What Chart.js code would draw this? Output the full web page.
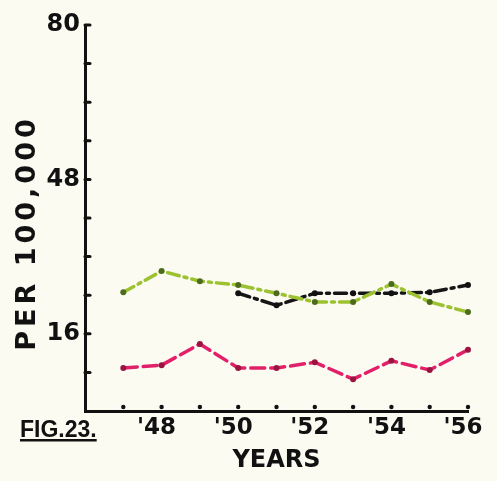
<!DOCTYPE html>
<html>
<head>
<meta charset="utf-8">
<script src="https://cdn.jsdelivr.net/npm/chart.js@4.4.1/dist/chart.umd.min.js"></script>
<style>
  html, body { margin: 0; padding: 0; background: #fbfbf2; }
  #wrap { width: 497px; height: 481px; }
</style>
</head>
<body>
<div id="wrap"><canvas id="fig23" width="497" height="481"></canvas></div>
<script>
// years 1947 - 1956 (shown as '48, '50 ...)
const years = [47, 48, 49, 50, 51, 52, 53, 54, 55, 56];
const greenRates = [24.6, 29.0, 26.9, 26.1, 24.4, 22.6, 22.6, 26.3, 22.6, 20.5];
const blackRates = [null, null, null, 24.4, 21.9, 24.4, 24.4, 24.4, 24.6, 26.1];
const pinkRates = [8.9, 9.5, 13.9, 8.9, 8.9, 10.1, 6.6, 10.4, 8.5, 12.7];
const yLabels = [80, 48, 16];
const xLabels = [48, 50, 52, 54, 56];

let toPoints = (values) => {
    return years.map(function (yr, i) {
        return { x: yr, y: values[i] };
    });
};

// small tick stubs drawn inside the axes + the hand lettering
const innerTicks = {
    id: 'innerTicks',
    afterDraw(chart) {
        const ctx = chart.ctx;
        const area = chart.chartArea;
        const xs = chart.scales.x;
        const ys = chart.scales.y;
        ctx.save();
        ctx.strokeStyle = '#111';
        ctx.lineWidth = 3;
        ctx.lineCap = 'round';
        ys.ticks.forEach(function (t) {
            const py = ys.getPixelForValue(t.value);
            if (t.value === 0) return;
            ctx.beginPath();
            ctx.moveTo(area.left, py);
            ctx.lineTo(area.left + 5, py);
            ctx.stroke();
        });
        ctx.fillStyle = '#111';
        xs.ticks.forEach(function (t) {
            if (t.value === 46) return;
            const px = xs.getPixelForValue(t.value);
            ctx.beginPath();
            ctx.arc(px, area.bottom - 4, 2.2, 0, Math.PI * 2);
            ctx.fill();
        });

        // figure caption, underlined
        ctx.font = 'bold 23px "Liberation Sans Narrow", "Liberation Sans"';
        ctx.letterSpacing = '0px';
        ctx.textBaseline = 'alphabetic';
        ctx.textAlign = 'left';
        ctx.fillText('FIG.23.', 20, 437);
        const w = ctx.measureText('FIG.23.').width;
        ctx.fillRect(20, 439, w, 2.5);

        // y title, spaced out like the original lettering
        ctx.translate(28, 235);
        ctx.rotate(-Math.PI / 2);
        ctx.font = 'bold 27px "DejaVu Sans"';
        ctx.letterSpacing = '4px';
        ctx.textAlign = 'center';
        ctx.textBaseline = 'middle';
        ctx.fillText('PER 100,000', 2, 0);
        ctx.restore();
    }
};

const ctxL = document.getElementById('fig23').getContext('2d');
const fig = new Chart(ctxL, {
    type: 'line',
    data: {
        datasets: [{
            label: 'Series A',
            data: toPoints(greenRates),
            borderColor: '#9cc232',
            borderWidth: 3.5,
            borderDash: [12, 5, 3, 5],
            borderCapStyle: 'round',
            pointRadius: 3,
            pointBorderWidth: 0,
            pointBackgroundColor: '#4d6b1c',
            tension: 0
        }, {
            label: 'Series B',
            data: toPoints(blackRates),
            borderColor: '#161616',
            borderWidth: 3.5,
            borderDash: [12, 5, 3, 5],
            borderCapStyle: 'round',
            pointRadius: 3,
            pointBorderWidth: 0,
            pointBackgroundColor: '#111',
            tension: 0,
            spanGaps: false
        }, {
            label: 'Series C',
            data: toPoints(pinkRates),
            borderColor: '#e2206a',
            borderWidth: 3.5,
            borderDash: [14, 6],
            borderCapStyle: 'round',
            pointRadius: 3,
            pointBorderWidth: 0,
            pointBackgroundColor: '#9a1440',
            tension: 0
        }]
    },
    options: {
        responsive: false,
        animation: false,
        clip: false,
        layout: { padding: { left: 12, right: 29, top: 25, bottom: 6 } },
        plugins: { legend: { display: false }, tooltip: { enabled: false } },
        scales: {
            x: {
                type: 'linear',
                min: 46,
                max: 56,
                border: { display: true, color: '#111', width: 3 },
                grid: { display: false, drawTicks: false },
                ticks: {
                    stepSize: 1,
                    autoSkip: false,
                    maxRotation: 0,
                    padding: 3,
                    labelOffset: -5,
                    color: '#111',
                    font: { family: 'DejaVu Sans', weight: 'bold', size: 23 },
                    callback: function (v) {
                        return xLabels.includes(v) ? "'" + v : '';
                    }
                },
                title: {
                    display: true,
                    text: 'YEARS',
                    color: '#111',
                    padding: { top: 0, bottom: 0 },
                    font: { family: 'DejaVu Sans', weight: 'bold', size: 24 }
                },
                afterFit: function (scale) { scale.height = 64; }
            },
            y: {
                min: 0,
                max: 80,
                border: { display: true, color: '#111', width: 3 },
                grid: { display: false, drawTicks: false },
                ticks: {
                    stepSize: 8,
                    autoSkip: false,
                    padding: 5,
                    color: '#111',
                    font: { family: 'DejaVu Sans', weight: 'bold', size: 24 },
                    callback: function (v) {
                        return yLabels.includes(v) ? String(v) : '';
                    }
                },
                title: { display: false },
                afterFit: function (scale) { scale.width = 73; }
            }
        }
    },
    plugins: [innerTicks]
});
</script>
</body>
</html>
